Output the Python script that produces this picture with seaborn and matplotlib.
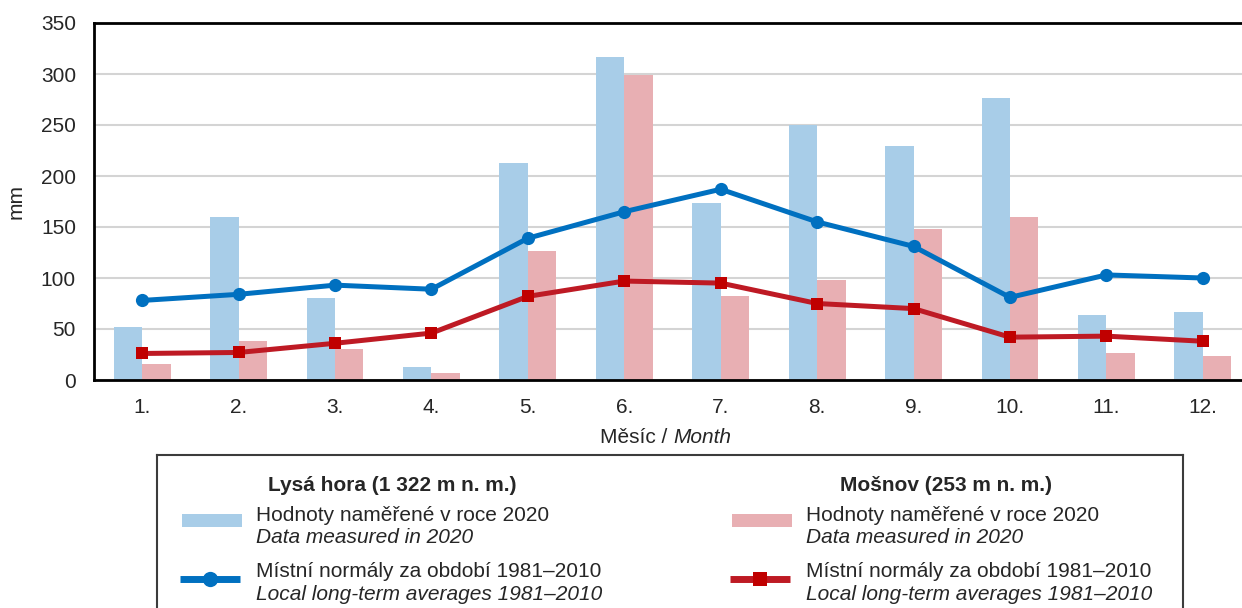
import numpy as np
import pandas as pd
import matplotlib
matplotlib.use("Agg")
import matplotlib.pyplot as plt
from matplotlib.patches import Rectangle
import seaborn as sns

# monthly precipitation, mm
months = ["1.", "2.", "3.", "4.", "5.", "6.", "7.", "8.", "9.", "10.", "11.", "12."]
lysa_2020 = [52, 160, 80, 13, 213, 317, 174, 250, 229, 276, 64, 67]
mosnov_2020 = [16, 38, 30, 7, 126, 299, 82, 98, 148, 160, 26, 24]
lysa_norm = [78, 84, 93, 89, 139, 165, 187, 155, 131, 81, 103, 100]
mosnov_norm = [26, 27, 36, 46, 82, 97, 95, 75, 70, 42, 43, 38]

y_ticks = [0, 50, 100, 150, 200, 250, 300, 350]

BLUE_BAR = "#A8CDE8"
PINK_BAR = "#E8AFB3"
BLUE_LINE = "#0070C0"
RED_LINE = "#BE1A24"
RED_MARK = "#C00000"

sns.set_style("white")
plt.rcParams["font.family"] = ["Liberation Sans", "DejaVu Sans"]
plt.rcParams["font.size"] = 15

W, H = 1242, 608
fig = plt.figure(figsize=(W / 100, H / 100), dpi=100)

# main plot area (pixel bounds)
left, right, top, bottom = 94, 1251, 23, 380
ax = fig.add_axes([left / W, (H - bottom) / H, (right - left) / W, (bottom - top) / H])

df = pd.DataFrame({
    "month": months * 2,
    "value": lysa_2020 + mosnov_2020,
    "station": ["Lysá hora"] * 12 + ["Mošnov"] * 12,
})
sns.barplot(data=df, x="month", y="value", hue="station", order=months,
            palette={"Lysá hora": BLUE_BAR, "Mošnov": PINK_BAR}, saturation=1,
            width=0.59, gap=0, edgecolor="none", linewidth=0,
            legend=False, ax=ax, zorder=2)

pos = np.arange(len(months))
sns.lineplot(x=pos, y=lysa_norm, ax=ax, color=BLUE_LINE, linewidth=3.6,
             marker="o", markersize=9.5, markeredgewidth=0, zorder=4)
sns.lineplot(x=pos, y=mosnov_norm, ax=ax, color=RED_LINE, linewidth=3.6,
             marker="s", markersize=8, markerfacecolor=RED_MARK,
             markeredgecolor=RED_MARK, markeredgewidth=0, zorder=4)

ax.set_xlim(-0.5, len(months) - 0.5)
ax.set_ylim(0, 350)
ax.set_yticks(y_ticks)
ax.yaxis.grid(True, color="#D4D4D4", linewidth=1.5)
ax.set_axisbelow(True)

# ticks between the categories, labels in the middle
ax.set_xticks(pos)
ax.set_xticklabels(months)
ax.set_xticks(np.arange(-0.5, len(months) + 0.5, 1), minor=True)
ax.tick_params(axis="x", which="major", length=0, pad=13, labelsize=15)
ax.tick_params(axis="x", which="minor", length=5, width=1.5, color="black", direction="out")
ax.tick_params(axis="y", length=5, width=1.5, color="black", direction="out", pad=8, labelsize=15)

for side in ["left", "bottom", "top"]:
    ax.spines[side].set_visible(True)
    ax.spines[side].set_color("black")
    ax.spines[side].set_linewidth(2)
ax.spines["right"].set_visible(False)

ax.set_xlabel("")
ax.set_ylabel("mm", fontsize=15)
ax.yaxis.set_label_coords((26 - left) / (right - left), 0.5)
fig.text(0.5 * (607 + 740) / W, 1 - 443 / H, "Měsíc / ", ha="right", va="baseline", fontsize=15)
fig.text(0.5 * (607 + 740) / W, 1 - 443 / H, "Month", ha="left", va="baseline",
         fontsize=15, style="italic")

# hand-built legend box, in pixel coordinates
lg_l, lg_r, lg_t = 157, 1183, 455
lax = fig.add_axes([lg_l / W, 0, (lg_r - lg_l) / W, (H - lg_t) / H])
lax.set_xlim(lg_l, lg_r)
lax.set_ylim(H, lg_t)
lax.set_xticks([])
lax.set_yticks([])
for side in ["left", "right", "top"]:
    lax.spines[side].set_color("#3C3C3C")
    lax.spines[side].set_linewidth(1.5)
lax.spines["bottom"].set_visible(False)

columns = [
    (268, 182, 256, "Lysá hora (1 322 m n. m.)", BLUE_BAR, BLUE_LINE, BLUE_LINE, "o", 11),
    (840, 732, 806, "Mošnov (253 m n. m.)", PINK_BAR, RED_LINE, RED_MARK, "s", 9.5),
]
for hx, sx, tx, header, bar_c, line_c, mark_c, mk, ms in columns:
    lax.text(hx, 491, header, fontsize=15, fontweight="bold", va="baseline")
    lax.add_patch(Rectangle((sx, 514), 60, 13, color=bar_c, linewidth=0))
    lax.text(tx, 521, "Hodnoty naměřené v roce 2020", fontsize=15, va="baseline")
    lax.text(tx, 543, "Data measured in 2020", fontsize=15, va="baseline", style="italic")
    lax.plot([sx - 2, sx + 58], [579, 579], color=line_c, linewidth=5,
             marker=None, solid_capstyle="butt")
    lax.plot([sx + 28], [579], color=mark_c, marker=mk, markersize=ms, markeredgewidth=0)
    lax.text(tx, 577, "Místní normály za období 1981–2010", fontsize=15, va="baseline")
    lax.text(tx, 600, "Local long-term averages 1981–2010", fontsize=15, va="baseline",
             style="italic")

fig.savefig("out.png", dpi=100)
